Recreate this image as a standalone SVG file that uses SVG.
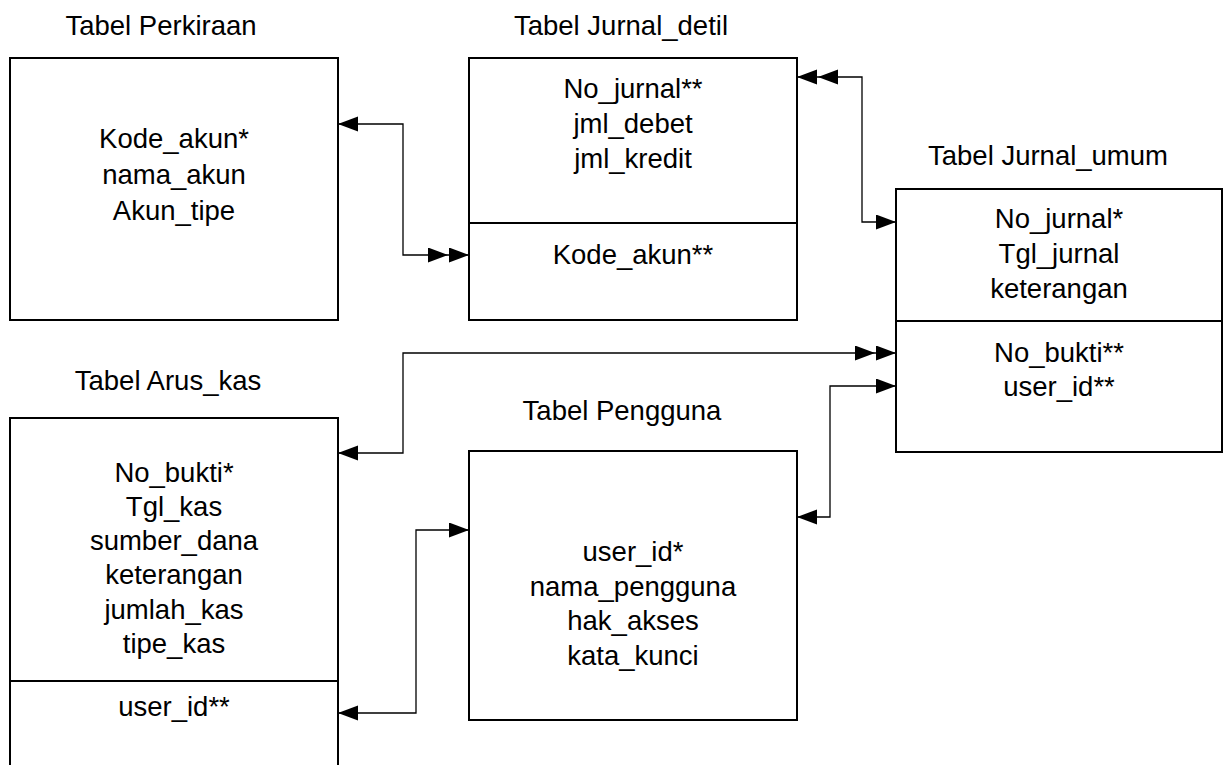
<svg xmlns="http://www.w3.org/2000/svg" width="1223" height="765" viewBox="0 0 1223 765">
<style>
text{font-family:"Liberation Sans",Arial,sans-serif;font-size:27.5px;fill:#000;text-anchor:middle}
.box{fill:#fff;stroke:#000;stroke-width:2}
.div{stroke:#000;stroke-width:2}
.con{fill:none;stroke:#000;stroke-width:1.3}
</style>
<defs>
<marker id="a1" markerUnits="userSpaceOnUse" markerWidth="22" markerHeight="16" refX="20" refY="7.5" orient="auto-start-reverse"><path d="M0,0 L20,7.5 L0,15 z" fill="#000"/></marker>
<marker id="a2" markerUnits="userSpaceOnUse" markerWidth="42" markerHeight="16" refX="41" refY="7.5" orient="auto-start-reverse"><path d="M0,0 L20,7.5 L0,15 z M21,0 L41,7.5 L21,15 z" fill="#000"/></marker>
</defs>
<rect width="1223" height="765" fill="#fff"/>
<g id="perkiraan">
<text x="161" y="35">Tabel Perkiraan</text>
<rect class="box" x="10" y="58" width="328" height="262"/>
<text x="174" y="148">Kode_akun*</text>
<text x="174" y="184">nama_akun</text>
<text x="174" y="220">Akun_tipe</text>
</g>
<g id="jurnal_detil">
<text x="621" y="35">Tabel Jurnal_detil</text>
<rect class="box" x="469" y="58" width="328" height="262"/>
<line class="div" x1="469" y1="223" x2="797" y2="223"/>
<text x="633" y="98">No_jurnal**</text>
<text x="633" y="133">jml_debet</text>
<text x="633" y="168">jml_kredit</text>
<text x="633" y="264">Kode_akun**</text>
</g>
<g id="jurnal_umum">
<text x="1048" y="165">Tabel Jurnal_umum</text>
<rect class="box" x="896" y="189" width="326" height="263"/>
<line class="div" x1="896" y1="321" x2="1222" y2="321"/>
<text x="1059" y="228">No_jurnal*</text>
<text x="1059" y="263">Tgl_jurnal</text>
<text x="1059" y="298">keterangan</text>
<text x="1059" y="362">No_bukti**</text>
<text x="1059" y="396">user_id**</text>
</g>
<g id="arus_kas">
<text x="168" y="390">Tabel Arus_kas</text>
<rect class="box" x="10" y="418" width="328" height="360"/>
<line class="div" x1="10" y1="681" x2="338" y2="681"/>
<text x="174" y="482">No_bukti*</text>
<text x="174" y="516">Tgl_kas</text>
<text x="174" y="550">sumber_dana</text>
<text x="174" y="584">keterangan</text>
<text x="174" y="619">jumlah_kas</text>
<text x="174" y="653">tipe_kas</text>
<text x="174" y="716">user_id**</text>
</g>
<g id="pengguna">
<text x="622" y="420">Tabel Pengguna</text>
<rect class="box" x="469" y="451" width="328" height="269"/>
<text x="633" y="561">user_id*</text>
<text x="633" y="596">nama_pengguna</text>
<text x="633" y="630">hak_akses</text>
<text x="633" y="665">kata_kunci</text>
</g>
<g id="connectors">
<path class="con" d="M338,124 H403 V255 H469" marker-start="url(#a1)" marker-end="url(#a2)"/>
<path class="con" d="M797,77 H862 V222 H896" marker-start="url(#a2)" marker-end="url(#a1)"/>
<path class="con" d="M338,453 H403 V353 H896" marker-start="url(#a1)" marker-end="url(#a2)"/>
<path class="con" d="M797,517 H830 V386 H896" marker-start="url(#a1)" marker-end="url(#a1)"/>
<path class="con" d="M338,713 H416 V530 H469" marker-start="url(#a1)" marker-end="url(#a1)"/>
</g>
</svg>
